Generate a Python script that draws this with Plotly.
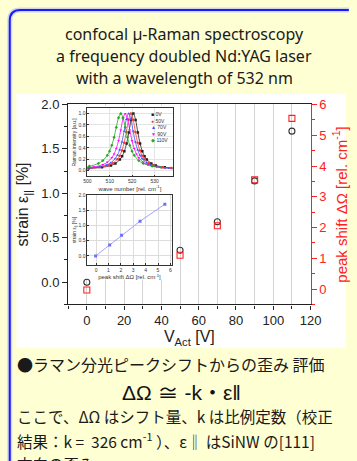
import plotly.graph_objects as go

W, H = 357, 461


def px(x):
    return x / W


def py(y):
    return 1 - y / H


# ---------------- data ----------------
v_act = [0, 50, 70, 90, 110]
strain = [0.0, 0.36, 0.68, 1.14, 1.70]
peak_shift = [-0.03, 1.10, 2.06, 3.55, 5.55]

spec_labels = ["0V", "50V", "70V", "90V", "110V"]
spec_colors = ["#222222", "#ff3333", "#3355ff", "#ff00ff", "#22aa22"]
spec_symbols = ["square", "circle", "triangle-up", "triangle-down", "diamond"]

wn_0v = [500.5, 506.5, 510.5, 512.5, 514.5, 515.5, 516.5, 517.5, 518.5, 519.5, 520.5,
         521.5, 522.5, 523.5, 524.5, 525.5, 526.5, 528.5, 530.5, 534.5, 538.5]
wn_50v = [499.4, 505.4, 509.4, 511.4, 513.4, 514.4, 515.4, 516.4, 517.4, 518.4, 519.4,
          520.4, 521.4, 522.4, 523.4, 524.4, 525.4, 527.4, 529.4, 533.4, 537.4]
wn_70v = [498.4, 504.4, 508.4, 510.4, 512.4, 513.4, 514.4, 515.4, 516.4, 517.4, 518.4,
          519.4, 520.4, 521.4, 522.4, 523.4, 524.4, 526.4, 528.4, 532.4, 536.4]
wn_90v = [496.9, 502.9, 506.9, 508.9, 510.9, 511.9, 512.9, 513.9, 514.9, 515.9, 516.9,
          517.9, 518.9, 519.9, 520.9, 521.9, 522.9, 524.9, 526.9, 530.9, 534.9]
wn_110v = [494.9, 500.9, 504.9, 506.9, 508.9, 509.9, 510.9, 511.9, 512.9, 513.9, 514.9,
           515.9, 516.9, 517.9, 518.9, 519.9, 520.9, 522.9, 524.9, 528.9, 532.9]

int_0v = [0.039, 0.058, 0.091, 0.127, 0.195, 0.254, 0.342, 0.477, 0.669, 0.889, 1.0,
          0.889, 0.669, 0.477, 0.342, 0.254, 0.195, 0.127, 0.091, 0.058, 0.043]
int_50v = [0.040, 0.060, 0.094, 0.131, 0.201, 0.262, 0.352, 0.489, 0.679, 0.894, 1.0,
           0.894, 0.679, 0.489, 0.352, 0.262, 0.201, 0.131, 0.094, 0.060, 0.045]
int_70v = [0.041, 0.062, 0.098, 0.137, 0.210, 0.272, 0.365, 0.503, 0.692, 0.900, 1.0,
           0.900, 0.692, 0.503, 0.365, 0.272, 0.210, 0.137, 0.098, 0.062, 0.046]
int_90v = [0.043, 0.066, 0.106, 0.148, 0.227, 0.292, 0.388, 0.526, 0.712, 0.908, 1.0,
           0.908, 0.712, 0.526, 0.388, 0.292, 0.227, 0.148, 0.106, 0.066, 0.048]
int_110v = [0.049, 0.078, 0.127, 0.178, 0.269, 0.342, 0.445, 0.584, 0.759, 0.927, 1.0,
            0.927, 0.759, 0.584, 0.445, 0.342, 0.269, 0.178, 0.127, 0.078, 0.056]

spec_x = [wn_0v, wn_50v, wn_70v, wn_90v, wn_110v]
spec_y = [int_0v, int_50v, int_70v, int_90v, int_110v]

title_lines = ["confocal µ-Raman spectroscopy",
               "a frequency doubled Nd:YAG laser",
               "with a wavelength of 532 nm"]

jp_lines = ["●ラマン分光ピークシフトからの歪み 評価",
            "ここで、ΔΩ はシフト量、k は比例定数（校正",
            "結果：k =  326 cm<sup>-1</sup> ）、ε‖ はSiNW の[111]",
            "方向の歪み"]
formula = "ΔΩ ≅ -k・ε‖"

# ---------------- figure ----------------
fig = go.Figure()

# main plot
fig.add_trace(go.Scatter(
    x=v_act, y=strain, mode="markers", xaxis="x", yaxis="y", showlegend=False,
    marker=dict(symbol="circle-open", size=6, color="#333333", line=dict(width=1.1))))
fig.add_trace(go.Scatter(
    x=v_act, y=peak_shift, mode="markers", xaxis="x", yaxis="y2", showlegend=False,
    marker=dict(symbol="square-open", size=6, color="#ff2020", line=dict(width=1.1))))

# inset 1: spectra
for xs, ys, c, s in zip(spec_x, spec_y, spec_colors, spec_symbols):
    fig.add_trace(go.Scatter(
        x=xs, y=ys, mode="lines+markers", xaxis="x3", yaxis="y3", showlegend=False,
        line=dict(color=c, width=0.8, shape="spline"),
        marker=dict(symbol=s, size=2.5, color=c)))

# inset 2: strain vs peak shift
fig.add_trace(go.Scatter(
    x=peak_shift, y=strain, mode="lines+markers", xaxis="x4", yaxis="y4", showlegend=False,
    line=dict(color="#8c8cff", width=0.8),
    marker=dict(symbol="square", size=3, color="#6f6fff")))

tick_font = dict(family="Liberation Sans, Arial", size=13, color="#222222")
small_font = dict(family="Liberation Sans, Arial", size=5, color="#333333")

fig.update_layout(
    width=W, height=H, autosize=False,
    margin=dict(l=0, r=0, t=0, b=0, pad=0),
    paper_bgcolor="#FFFFD4", plot_bgcolor="white",
    showlegend=False,
    xaxis=dict(domain=[px(67), px(320)], range=[-10, 120], dtick=20, tick0=0,
               showline=True, linecolor="#222", linewidth=1.3, mirror=True,
               ticks="outside", ticklen=4, tickcolor="#222", tickfont=tick_font,
               showgrid=True, gridcolor="#d4d4d4", gridwidth=1,
               minor=dict(dtick=10, showgrid=True, gridcolor="#d4d4d4", ticks="outside",
                          ticklen=3, tickcolor="#222"),
               zeroline=False, anchor="y",
               title=dict(text="V<sub>Act</sub> [V]", standoff=0,
                          font=dict(family="Liberation Sans, Arial", size=16, color="#222"))),
    yaxis=dict(domain=[py(302), py(99)], range=[-0.25, 2.0], dtick=0.5, tickformat=".1f",
               showline=True, linecolor="#222", linewidth=1.3,
               ticks="outside", ticklen=5, tickcolor="#222", tickfont=tick_font,
               showgrid=False, zeroline=False, anchor="x",
               minor=dict(dtick=0.25, ticks="outside", ticklen=3, tickcolor="#222"),
               title=dict(text="strain ε<sub>||</sub> [%]", standoff=8,
                          font=dict(family="Liberation Sans, Arial", size=16, color="#222"))),
    yaxis2=dict(overlaying="y", side="right", anchor="x", range=[-0.5, 6.0], dtick=1,
                showline=True, linecolor="#ff2020", linewidth=1.3,
                ticks="outside", ticklen=5, tickcolor="#ff2020",
                tickfont=dict(family="Liberation Sans, Arial", size=13, color="#ff2020"),
                minor=dict(dtick=0.5, ticks="outside", ticklen=3, tickcolor="#ff2020"),
                showgrid=False, zeroline=False,
                title=dict(text="peak shift ΔΩ [rel. cm<sup>-1</sup>]", standoff=10,
                           font=dict(family="Liberation Sans, Arial", size=15, color="#ff2020"))),
    xaxis3=dict(domain=[px(87), px(176)], anchor="y3", range=[500, 538], dtick=10, tick0=500,
                showline=True, linecolor="#333", linewidth=0.7, mirror=True,
                ticks="inside", ticklen=2, tickcolor="#333", tickfont=small_font,
                showgrid=True, gridcolor="#e4e4e4", gridwidth=0.5, zeroline=False,
                title=dict(text="wave number [rel. cm<sup>-1</sup>]", standoff=1,
                           font=dict(family="Liberation Sans, Arial", size=6, color="#333"))),
    yaxis3=dict(domain=[py(172), py(103)], anchor="x3", range=[-0.1, 1.09], dtick=0.2,
                tickformat=".1f", showline=True, linecolor="#333", linewidth=0.7, mirror=True,
                ticks="inside", ticklen=2, tickcolor="#333", tickfont=small_font,
                showgrid=True, gridcolor="#e4e4e4", gridwidth=0.5, zeroline=False,
                title=dict(text="Raman intensity [a.u.]", standoff=1,
                           font=dict(family="Liberation Sans, Arial", size=5, color="#333"))),
    xaxis4=dict(domain=[px(87), px(175)], anchor="y4", range=[-0.7, 6.1], dtick=1, tick0=0,
                showline=True, linecolor="#333", linewidth=0.7, mirror=True,
                ticks="inside", ticklen=2, tickcolor="#333", tickfont=small_font,
                showgrid=True, gridcolor="#dcdcdc", gridwidth=0.5, zeroline=False,
                title=dict(text="peak shift ΔΩ [rel. cm<sup>-1</sup>]", standoff=1,
                           font=dict(family="Liberation Sans, Arial", size=6, color="#333"))),
    yaxis4=dict(domain=[py(262), py(191)], anchor="x4", range=[-0.3, 2.0], dtick=0.5,
                tickformat=".1f", showline=True, linecolor="#333", linewidth=0.7, mirror=True,
                ticks="inside", ticklen=2, tickcolor="#333", tickfont=small_font,
                showgrid=True, gridcolor="#dcdcdc", gridwidth=0.5, zeroline=False,
                title=dict(text="strain ε<sub>||</sub> [%]", standoff=1,
                           font=dict(family="Liberation Sans, Arial", size=5, color="#333"))),
)

# background panels / border
border_path = (f"M {px(6)},{py(470)} L {px(6)},{py(14)} Q {px(6)},{py(3)} {px(17)},{py(3)} "
               f"L {px(360)},{py(3)}")
shapes = [
    dict(type="rect", xref="paper", yref="paper", x0=px(13), x1=1.0, y0=py(346), y1=py(88),
         fillcolor="white", line=dict(width=0), layer="below"),
    # white cover for the inset images (hides main gridlines there)
    dict(type="rect", xref="x", yref="y", x0=-9.6, x1=47.5, y0=0.03, y1=1.99,
         fillcolor="white", line=dict(width=0), layer="between"),
    dict(type="path", xref="paper", yref="paper", path=border_path,
         line=dict(color="rgba(120,140,255,0.35)", width=5), layer="above"),
    dict(type="path", xref="paper", yref="paper", path=border_path,
         line=dict(color="#1a1aff", width=2), layer="above"),
]
fig.update_layout(shapes=shapes)

annotations = []
title_font = dict(family="Noto Sans, Open Sans", size=16, color="#1a1a1a")
for i, t in enumerate(title_lines):
    annotations.append(dict(text=t, xref="paper", yref="paper", x=px(188), y=py(27 + 22.5 * i),
                            xanchor="center", yanchor="middle", showarrow=False, font=title_font))

# inset legend
leg_text = "<br>".join(
    f"<span style='color:{c}'>{sym}</span> {lab}"
    for c, sym, lab in zip(spec_colors, ["■", "●", "▲", "▼", "◆"], spec_labels))
annotations.append(dict(text=leg_text, xref="paper", yref="paper", x=px(151), y=py(104),
                        xanchor="left", yanchor="top", align="left", showarrow=False,
                        font=dict(family="Liberation Sans, Arial", size=5, color="#333")))

jp_font = dict(family="Noto Sans CJK JP", size=15.5, color="#1a1a1a")
annotations.append(dict(text=jp_lines[0], xref="paper", yref="paper", x=px(12), y=py(363),
                        xanchor="left", yanchor="middle", showarrow=False,
                        font=dict(family="Noto Sans CJK JP", size=16, color="#1a1a1a")))
annotations.append(dict(text=formula, xref="paper", yref="paper", x=px(185), y=py(391),
                        xanchor="center", yanchor="middle", showarrow=False,
                        font=dict(family="Liberation Sans, Noto Sans CJK JP", size=21,
                                  color="#111")))
annotations.append(dict(text=jp_lines[1], xref="paper", yref="paper", x=px(12), y=py(415),
                        xanchor="left", yanchor="middle", showarrow=False, font=jp_font))
annotations.append(dict(text=jp_lines[2], xref="paper", yref="paper", x=px(12), y=py(439.5),
                        xanchor="left", yanchor="middle", showarrow=False, font=jp_font))
annotations.append(dict(text=jp_lines[3], xref="paper", yref="paper", x=px(12), y=py(464),
                        xanchor="left", yanchor="middle", showarrow=False, font=jp_font))
fig.update_layout(annotations=annotations)

fig.write_html(
    "out.html",
    config={"displayModeBar": False},
    post_script="document.body.style.margin='0';document.body.style.padding='0';"
                "document.documentElement.style.overflow='hidden';",
)
